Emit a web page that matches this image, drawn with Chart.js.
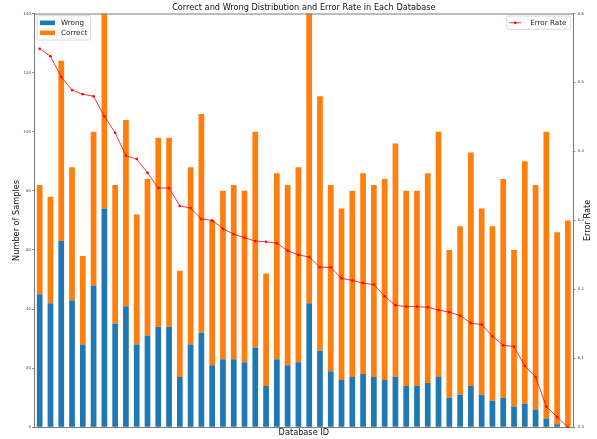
<!DOCTYPE html>
<html>
<head>
<meta charset="utf-8">
<script src="https://cdn.jsdelivr.net/npm/chart.js@4.4.0/dist/chart.umd.min.js"></script>
<style>
  html, body { margin: 0; padding: 0; background: #fff; }
  canvas { display: block; }
</style>
</head>
<body>
<canvas id="dbChart" width="597" height="439"></canvas>
<script>
// one entry per database, sorted by error rate (ids are not shown on the axis)
const dbIds = [
  "1", "2", "3", "4", "5", "6", "7", "8", "9", "10",
  "11", "12", "13", "14", "15", "16", "17", "18", "19", "20",
  "21", "22", "23", "24", "25", "26", "27", "28", "29", "30",
  "31", "32", "33", "34", "35", "36", "37", "38", "39", "40",
  "41", "42", "43", "44", "45", "46", "47", "48", "49", "50"
];
const wrongCounts = [
  45, 42, 63, 43, 28, 48, 74, 35, 41, 28,
  31, 34, 34, 17, 28, 32, 21, 23, 23, 22,
  27, 14, 23, 21, 22, 42, 26, 19, 16, 17,
  18, 17, 16, 17, 14, 14, 15, 17, 10, 11,
  14, 11, 9, 10, 7, 8, 6, 3, 1, 0
];
const correctCounts = [
  37, 36, 61, 45, 30, 52, 90, 47, 63, 44,
  53, 64, 64, 36, 60, 74, 49, 57, 59, 58,
  73, 38, 63, 61, 66, 128, 86, 63, 58, 63,
  68, 65, 68, 79, 66, 66, 71, 83, 50, 57,
  79, 63, 59, 74, 53, 82, 76, 97, 65, 70
];
const errorRate = [
  0.549, 0.538, 0.508, 0.489, 0.483, 0.480, 0.451, 0.427, 0.394, 0.389,
  0.369, 0.347, 0.347, 0.321, 0.318, 0.302, 0.300, 0.288, 0.280, 0.275,
  0.270, 0.269, 0.267, 0.256, 0.250, 0.247, 0.232, 0.232, 0.216, 0.213,
  0.209, 0.207, 0.190, 0.177, 0.175, 0.175, 0.174, 0.170, 0.167, 0.162,
  0.151, 0.149, 0.132, 0.119, 0.117, 0.089, 0.073, 0.030, 0.015, 0.000
];
const countTicks = [0, 20, 40, 60, 80, 100, 120, 140];
const rateTicks = [0.0, 0.1, 0.2, 0.3, 0.4, 0.5, 0.6];

const blue = "#1f77b4";
const orange = "#ff7f0e";
const red = "#ff0000";
const spineColor = "#7a7a7a";
const fontFamily = "'DejaVu Sans', sans-serif";

Chart.defaults.font.family = fontFamily;
Chart.defaults.color = "#222";

// matplotlib-like extras: top spine, the two legends and the right axis label
const extrasPlugin = {
  id: "extras",
  afterDatasetsDraw(chart) {
    const { ctx, chartArea } = chart;
    ctx.save();
    ctx.strokeStyle = spineColor;
    ctx.lineWidth = 1;
    ctx.beginPath();
    ctx.moveTo(chartArea.left, chartArea.top + 0.5);
    ctx.lineTo(chartArea.right, chartArea.top + 0.5);
    ctx.stroke();
    ctx.restore();
  },
  afterDraw(chart) {
    const { ctx, chartArea } = chart;
    const ds = chart.data.datasets;

    const box = (x, y, w, h) => {
      ctx.fillStyle = "rgba(255,255,255,0.8)";
      ctx.strokeStyle = "#d9d9d9";
      ctx.lineWidth = 1;
      ctx.beginPath();
      ctx.roundRect(x, y, w, h, 2);
      ctx.fill();
      ctx.stroke();
    };

    ctx.save();
    ctx.font = "7.2px " + fontFamily;
    ctx.textBaseline = "middle";
    ctx.textAlign = "left";

    // bars legend, upper left
    const lx = chartArea.left + 2.7;
    const ly = chartArea.top + 2.2;
    box(lx, ly, 53.7, 24.3);
    [ds[0], ds[1]].forEach((d, i) => {
      const cy = ly + 7 + i * 10;
      ctx.fillStyle = d.backgroundColor;
      ctx.fillRect(lx + 3, cy - 2.2, 15, 4.6);
      ctx.fillStyle = "#222";
      ctx.fillText(d.label, lx + 24, cy);
    });

    // line legend, upper right
    const rx = chartArea.right - 66.6;
    const ry = chartArea.top + 2.5;
    box(rx, ry, 64, 13.3);
    const cy = ry + 6.7;
    ctx.strokeStyle = ds[2].borderColor;
    ctx.lineWidth = 1;
    ctx.beginPath();
    ctx.moveTo(rx + 2.5, cy);
    ctx.lineTo(rx + 14.5, cy);
    ctx.stroke();
    ctx.fillStyle = red;
    ctx.beginPath();
    ctx.arc(rx + 8.5, cy, 1.3, 0, Math.PI * 2);
    ctx.fill();
    ctx.fillStyle = "#222";
    ctx.fillText(ds[2].label, rx + 23.5, cy);

    // right axis title, reading bottom to top like the left one
    ctx.font = "8.2px " + fontFamily;
    ctx.textAlign = "center";
    ctx.translate(588, (chartArea.top + chartArea.bottom) / 2);
    ctx.rotate(-Math.PI / 2);
    ctx.fillStyle = "#111";
    ctx.fillText("Error Rate", 0, 0);
    ctx.restore();
  }
};

const ctx = document.getElementById("dbChart").getContext("2d");
new Chart(ctx, {
  data: {
    labels: dbIds,
    datasets: [
      {
        type: "bar",
        label: "Wrong",
        data: wrongCounts,
        backgroundColor: blue,
        yAxisID: "y",
        stack: "counts",
        order: 1,
        barPercentage: 0.53,
        categoryPercentage: 1
      },
      {
        type: "bar",
        label: "Correct",
        data: correctCounts,
        backgroundColor: orange,
        yAxisID: "y",
        stack: "counts",
        order: 1,
        barPercentage: 0.53,
        categoryPercentage: 1
      },
      {
        type: "line",
        label: "Error Rate",
        data: errorRate,
        yAxisID: "y1",
        borderColor: "rgba(255,0,0,0.8)",
        borderWidth: 1,
        pointRadius: 1.3,
        pointBackgroundColor: red,
        pointBorderWidth: 0,
        tension: 0,
        order: 0
      }
    ]
  },
  options: {
    responsive: false,
    animation: false,
    events: [],
    layout: { padding: 0 },
    plugins: {
      legend: { display: false },
      tooltip: { enabled: false },
      title: {
        display: true,
        fullSize: false,
        text: "Correct and Wrong Distribution and Error Rate in Each Database",
        color: "#111",
        font: { size: 8.2, weight: "normal" },
        padding: { top: 2.6, bottom: 1.1 }
      }
    },
    scales: {
      x: {
        stacked: true,
        offset: true,
        grid: { display: false },
        border: { display: true, color: spineColor, width: 1 },
        ticks: { display: false },
        title: {
          display: true,
          text: "Database ID",
          color: "#111",
          font: { size: 8.2 },
          padding: { top: 0, bottom: 1.4 }
        },
        afterFit: (s) => { s.height = 11.7; }
      },
      y: {
        position: "left",
        stacked: true,
        min: 0,
        max: 140,
        afterBuildTicks: (s) => { s.ticks = countTicks.map((v) => ({ value: v })); },
        grid: { display: true, drawOnChartArea: false, drawTicks: true, tickLength: 2, color: spineColor },
        border: { display: true, color: spineColor, width: 1 },
        ticks: { font: { size: 3.8 }, padding: 1.5, color: "#333" },
        title: {
          display: true,
          text: "Number of Samples",
          color: "#111",
          font: { size: 8.2 },
          padding: { top: 12, bottom: 0 }
        },
        afterFit: (s) => { s.width = 34.3; }
      },
      y1: {
        position: "right",
        min: 0,
        max: 0.6,
        afterBuildTicks: (s) => { s.ticks = rateTicks.map((v) => ({ value: v })); },
        grid: { display: true, drawOnChartArea: false, drawTicks: true, tickLength: 2, color: spineColor },
        border: { display: true, color: spineColor, width: 1 },
        ticks: { font: { size: 3.8 }, padding: 2.5, color: "#333", callback: (v) => v.toFixed(1) },
        afterFit: (s) => { s.width = 23.7; }
      }
    }
  },
  plugins: [extrasPlugin]
});
</script>
</body>
</html>
